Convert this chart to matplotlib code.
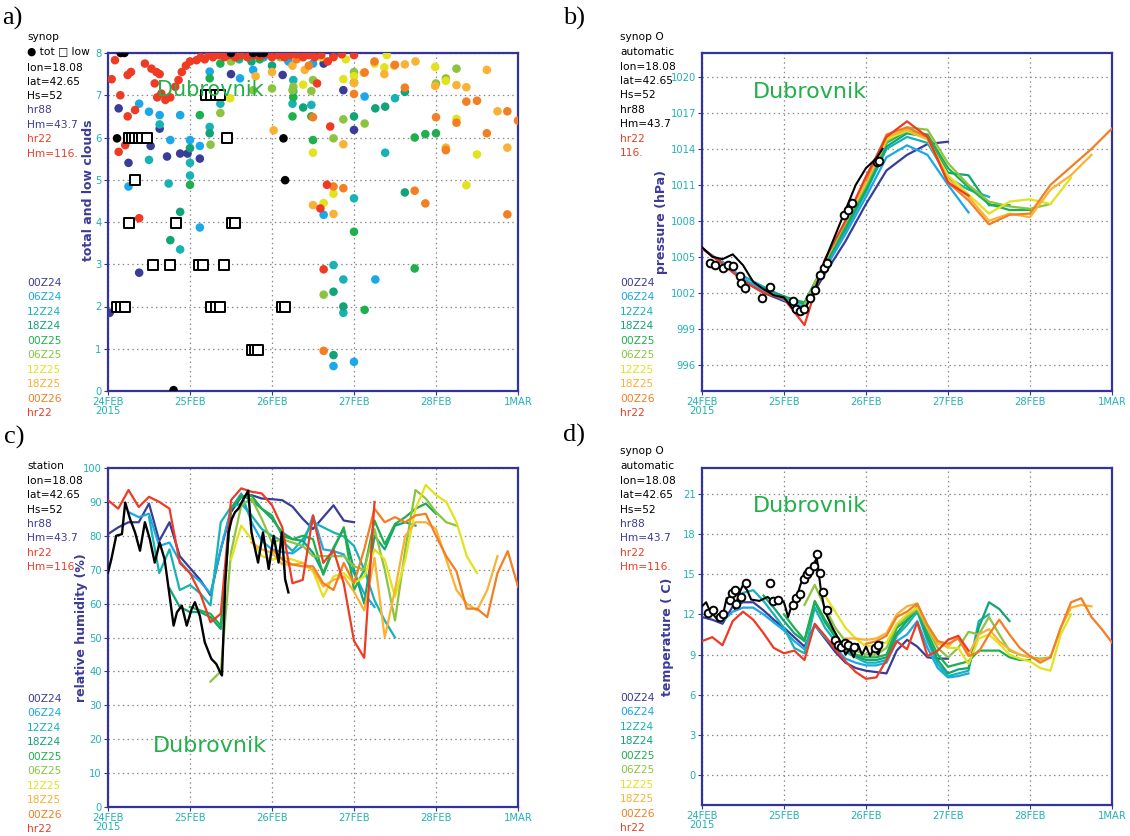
import numpy as np
import matplotlib
matplotlib.use('Agg')
import matplotlib.pyplot as plt

W, H = 1130, 836

runs = ['00Z24', '06Z24', '12Z24', '18Z24', '00Z25', '06Z25', '12Z25', '18Z25', '00Z26', 'hr22']
run_colors = ['#3b3b98', '#1aa8e8', '#17b3b3', '#10a478', '#1eaf4e', '#8cc43f',
              '#e2e21e', '#f9b233', '#f37f22', '#ef3b24']
run_init = [0.0, 0.25, 0.5, 0.75, 1.0, 1.25, 1.5, 1.75, 2.0, 0.0]
xtick_labels = ['24FEB\n2015', '25FEB', '26FEB', '27FEB', '28FEB', '1MAR']

# ---------------- a) cloud cover (time in days from 24FEB 00Z, octas) ----------------
cl_00Z24 = [(0.02, 1.85), (0.13, 6.69), (0.25, 5.4), (0.38, 2.8), (0.52, 5.8), (0.63, 6.21), (0.72, 5.55),
            (0.88, 5.62), (0.97, 5.62), (1.12, 5.5), (1.5, 7.5), (1.3, 7.95), (2.13, 7.48), (2.63, 7.75),
            (2.75, 7.95), (2.87, 7.12), (3.0, 6.18)]
cl_06Z24 = [(0.38, 6.8), (0.5, 6.61), (0.63, 6.53), (0.76, 5.94), (0.88, 6.53), (1.0, 5.94), (1.12, 5.8),
            (0.25, 4.84), (1.12, 3.87), (1.24, 7.56), (1.61, 7.4), (1.77, 7.6), (2.5, 7.75), (3.13, 6.97),
            (2.63, 4.17), (3.26, 2.64), (2.75, 0.59), (3.0, 0.69), (1.9, 7.9), (2.2, 7.8)]
cl_12Z24 = [(0.5, 5.47), (0.63, 6.31), (1.0, 5.4), (1.24, 6.25), (1.37, 6.8), (2.25, 6.8), (2.48, 6.77),
            (0.74, 4.91), (0.88, 3.35), (2.26, 7.36), (2.26, 7.1), (3.5, 6.93), (3.38, 5.64), (3.0, 4.56),
            (2.75, 2.98), (2.87, 1.85), (2.87, 2.64), (1.0, 5.1), (1.6, 7.85)]
cl_18Z24 = [(0.76, 3.57), (0.88, 4.24), (1.24, 6.1), (2.38, 6.71), (3.26, 6.69), (3.38, 6.73), (3.62, 7.08),
            (3.0, 6.5), (2.75, 0.85), (2.87, 2.0), (2.75, 2.35), (3.62, 4.7), (1.0, 5.75), (1.75, 7.8), (2.0, 7.7)]
cl_00Z25 = [(1.12, 6.53), (1.24, 7.4), (1.37, 7.75), (1.0, 4.88), (2.25, 6.5), (2.48, 6.5), (2.26, 6.95),
            (2.5, 5.94), (3.74, 6.0), (3.87, 6.08), (4.0, 6.1), (3.0, 3.77), (3.74, 2.9), (3.13, 1.92),
            (3.0, 7.3), (1.6, 7.9), (1.85, 7.85)]
cl_06Z25 = [(1.25, 5.83), (1.37, 6.58), (1.77, 7.12), (2.25, 7.12), (2.48, 7.1), (2.0, 7.16), (2.26, 7.2),
            (2.5, 7.36), (2.75, 5.98), (2.87, 6.43), (3.13, 6.33), (3.0, 7.55), (4.0, 7.28), (4.12, 7.4),
            (4.25, 7.63), (2.63, 2.28), (1.5, 7.8), (2.1, 7.9)]
cl_12Z25 = [(1.49, 6.93), (2.38, 7.25), (2.5, 5.64), (2.75, 4.67), (2.63, 4.45), (2.87, 7.38), (3.0, 7.45),
            (3.25, 7.75), (3.37, 7.66), (3.99, 7.67), (4.12, 7.34), (4.25, 6.44), (4.5, 5.6), (4.37, 4.87),
            (2.6, 7.9), (2.9, 7.85), (3.4, 7.95)]
cl_18Z25 = [(2.02, 6.17), (2.5, 4.4), (2.75, 4.19), (2.87, 5.84), (3.0, 7.29), (3.12, 7.53), (3.37, 7.5),
            (3.49, 7.7), (3.62, 7.73), (3.75, 7.8), (3.99, 7.22), (4.12, 5.76), (4.25, 7.24), (4.37, 7.19),
            (4.62, 7.6), (4.75, 6.62), (4.87, 5.76), (1.8, 7.45), (2.0, 7.55), (2.25, 7.7), (2.4, 7.6)]
cl_00Z26 = [(2.5, 6.48), (2.75, 4.84), (2.87, 4.8), (3.0, 7.03), (3.13, 7.54), (3.5, 7.72), (3.62, 7.18),
            (3.74, 4.74), (3.87, 4.44), (4.0, 6.48), (4.12, 5.7), (4.25, 6.35), (4.37, 6.85), (4.5, 6.87),
            (4.62, 6.1), (4.87, 6.62), (5.0, 6.4), (4.87, 4.18), (2.63, 0.95), (2.3, 7.85), (2.45, 7.7), (3.25, 7.8)]
cl_hr22 = [(0.045, 7.38), (0.085, 7.83), (0.24, 7.48), (0.28, 7.55), (0.33, 6.65), (0.24, 6.5), (0.45, 7.75),
           (0.53, 7.63), (0.59, 7.55), (0.63, 7.5), (0.57, 7.28), (0.65, 7.04), (0.7, 6.89), (0.76, 6.95),
           (0.82, 7.2), (0.86, 7.36), (0.9, 7.55), (0.95, 7.7), (1.0, 7.8), (1.08, 7.83), (0.13, 5.66),
           (0.21, 5.82), (0.39, 6.02), (0.38, 4.09), (2.55, 7.28), (2.71, 6.26), (2.67, 4.88), (2.59, 4.32),
           (2.63, 2.88), (1.13, 7.9), (1.18, 7.85), (1.23, 7.95), (1.28, 7.9), (1.35, 7.95), (1.42, 7.9),
           (1.48, 7.95), (1.55, 7.9), (1.62, 7.95), (1.7, 7.9), (1.78, 7.95), (1.85, 7.92), (1.92, 7.97),
           (2.0, 7.9), (2.08, 7.95), (2.15, 7.9), (2.22, 7.95), (2.3, 7.97), (2.38, 7.9), (2.45, 7.95),
           (2.52, 7.9), (2.6, 7.95), (2.68, 7.8), (2.75, 7.9), (2.85, 7.97), (3.0, 7.95), (0.15, 7.0), (0.6, 6.95)]
cloud_runs = [cl_00Z24, cl_06Z24, cl_12Z24, cl_18Z24, cl_00Z25, cl_06Z25, cl_12Z25, cl_18Z25, cl_00Z26, cl_hr22]
obs_tot = [(0.11, 5.98), (0.155, 8.0), (0.2, 8.0), (1.5, 8.0), (1.77, 8.0), (1.85, 8.0), (1.9, 8.0),
           (2.14, 5.98), (2.16, 4.99), (0.8, 0.02)]
obs_low = [(0.11, 1.98), (0.16, 1.98), (0.21, 1.98), (0.25, 3.98), (0.25, 6), (0.29, 6), (0.33, 6), (0.38, 6),
           (0.42, 6), (0.47, 6), (0.33, 5), (0.55, 2.98), (0.75, 2.98), (0.83, 3.98), (1.11, 2.98), (1.16, 2.98),
           (1.2, 7), (1.26, 7), (1.32, 7), (1.37, 7), (1.26, 1.98), (1.32, 1.98), (1.37, 1.98), (1.41, 2.98),
           (1.45, 6), (1.51, 3.98), (1.55, 3.98), (1.75, 0.98), (1.79, 0.98), (1.83, 0.98), (2.12, 1.98), (2.16, 1.98)]

# ---------------- b) pressure, 6-hourly from each run's start ----------------
pres_00Z24 = [1005.7, 1004.5, 1003.0, 1002.0, 1001.3, 1000.7, 1003.6, 1006.3, 1009.4, 1012.2, 1013.5, 1014.4, 1014.6]
pres_06Z24 = [1004.6, 1003.2, 1002.2, 1001.4, 1000.8, 1004.0, 1006.9, 1010.0, 1013.3, 1014.3, 1013.5, 1011.0, 1008.7]
pres_12Z24 = [1003.4, 1002.5, 1001.6, 1001.0, 1004.2, 1007.2, 1010.4, 1014.0, 1015.0, 1014.5, 1011.6, 1010.6, 1010.0]
pres_18Z24 = [1002.4, 1001.7, 1001.1, 1004.4, 1007.4, 1010.6, 1014.2, 1015.3, 1015.0, 1012.0, 1011.8, 1009.3, 1009.3]
pres_00Z25 = [1001.6, 1001.2, 1004.5, 1007.6, 1010.8, 1014.5, 1015.5, 1015.2, 1012.4, 1010.8, 1009.4, 1008.9, 1008.9]
pres_06Z25 = [1001.0, 1004.6, 1007.8, 1011.0, 1014.6, 1015.8, 1015.6, 1012.8, 1011.0, 1009.6, 1009.2, 1009.0, 1009.4]
pres_12Z25 = [1004.7, 1008.0, 1011.2, 1014.8, 1015.5, 1014.8, 1011.8, 1010.2, 1008.6, 1009.6, 1009.8, 1009.4, 1011.6]
pres_18Z25 = [1008.1, 1011.3, 1015.0, 1015.6, 1014.8, 1011.5, 1010.0, 1008.0, 1008.6, 1008.3, 1010.6, 1011.8, 1013.5]
pres_00Z26 = [1011.4, 1015.2, 1015.8, 1015.0, 1011.2, 1009.7, 1007.7, 1008.5, 1008.6, 1011.0, 1012.5, 1014.0, 1015.7]
pres_hr22 = [1005.7, 1004.4, 1003.0, 1002.0, 1001.5, 999.3, 1004.8, 1008.0, 1011.7, 1015.0, 1016.3, 1015.0, 1011.2, 1010.1]
pres_runs = [pres_00Z24, pres_06Z24, pres_12Z24, pres_18Z24, pres_00Z25, pres_06Z25, pres_12Z25, pres_18Z25,
             pres_00Z26, pres_hr22]
pres_obs_t = [0.0, 0.125, 0.25, 0.375, 0.5, 0.625, 0.75, 0.875, 1.0, 1.125, 1.25, 1.375, 1.5, 1.625, 1.75,
              1.875, 2.0, 2.125, 2.2]
pres_obs = [1005.8, 1005.0, 1004.8, 1005.2, 1004.3, 1002.9, 1002.3, 1001.8, 1001.6, 1000.5, 1000.6, 1002.2,
            1004.7, 1006.8, 1008.9, 1011.0, 1012.4, 1013.2, 1014.0]
pres_syn_t = [0.1, 0.16, 0.26, 0.32, 0.38, 0.46, 0.48, 0.52, 0.73, 0.83, 1.11, 1.15, 1.195, 1.24, 1.32, 1.38,
              1.44, 1.49, 1.53, 1.73, 1.78, 1.83, 2.13, 2.16]
pres_syn = [1004.5, 1004.3, 1004.1, 1004.3, 1004.2, 1003.4, 1002.8, 1002.4, 1001.6, 1002.5, 1001.3, 1000.6,
            1000.45, 1000.6, 1001.6, 1002.25, 1003.5, 1004.1, 1004.5, 1008.5, 1008.9, 1009.5, 1012.9, 1013.0]

# ---------------- c) relative humidity, 3-hourly ----------------
rh_00Z24 = [80.5, 82.5, 84, 84, 89.5, 78.5, 84, 74, 70.5, 67, 62.5, 76, 87, 91.5, 92, 91, 90.8, 90.5, 88.6, 85,
            82, 85.5, 89, 84.5, 84]
rh_06Z24 = [87, 85.5, 86.5, 77, 78, 72.5, 69, 66.5, 63, 76, 88, 92.5, 84, 78.5, 76, 75.2, 74.8, 77, 86, 76,
            75.5, 74.5, 69, 63, 59]
rh_12Z24 = [85.5, 69, 76, 64, 65.5, 63, 59.5, 84, 88.5, 89.5, 86, 82, 80, 78.5, 75.5, 79, 84, 82.5, 81, 79.8,
            77, 70, 61, 55, 50]
rh_18Z24 = [64.5, 59, 57.5, 57.5, 56, 52.5, 88, 92, 90.5, 88, 85, 81, 79, 78.5, 75, 69, 76.5, 82, 70, 60, 80,
            76, 83, 84, 83]
rh_00Z25 = [59, 58, 57, 53.5, 88, 91.5, 91.8, 88, 86, 80, 79, 80, 79, 68.5, 76, 82.5, 64, 70, 84.5, 77.5, 83.5,
            85.5, 88, 89.5, 86.5]
rh_06Z25 = [37, 40, 75, 89, 91, 85, 78, 79, 78, 77, 74, 74, 74, 74, 71, 70, 82, 70, 55, 76, 93.5, 91, 87, 84, 83]
rh_12Z25 = [73, 83, 79, 74, 73, 73.5, 73, 72, 69.5, 62, 68, 69, 66, 68, 76, 73, 62, 73, 88, 95, 92, 90, 84,
            74, 69]
rh_18Z25 = [78, 76, 75, 71.6, 71.5, 72, 70, 65, 67, 68, 63.5, 58, 73.5, 50, 64, 80, 84, 84, 82, 73, 64, 60, 58,
            64, 74]
rh_00Z26 = [76, 73, 71.5, 71, 71, 66, 64, 72, 66, 76, 88, 84, 85.5, 84, 86, 86.5, 80, 74, 69.5, 58.5, 58.5, 56,
            69, 75.5, 65]
rh_hr22 = [90.5, 88, 93.5, 88.5, 91.5, 90, 88, 72, 69, 63, 54.5, 57, 90.5, 94, 93, 92.5, 89, 82.5, 66, 67, 86,
           72, 75.8, 66, 49, 44, 90]
rh_runs = [rh_00Z24, rh_06Z24, rh_12Z24, rh_18Z24, rh_00Z25, rh_06Z25, rh_12Z25, rh_18Z25, rh_00Z26, rh_hr22]
rh_obs_t = [0.0, 0.04, 0.1, 0.17, 0.21, 0.27, 0.33, 0.39, 0.45, 0.51, 0.57, 0.63, 0.69, 0.74, 0.8, 0.84, 0.9,
            0.96, 1.02, 1.06, 1.12, 1.18, 1.26, 1.32, 1.37, 1.39, 1.43, 1.47, 1.51, 1.55, 1.59, 1.65, 1.71, 1.75,
            1.83, 1.89, 1.96, 2.02, 2.08, 2.12, 2.16, 2.2]
rh_obs = [69.2, 73, 80, 80.5, 89.8, 84.9, 81, 75.6, 84, 79, 72.1, 78, 73.1, 64.3, 53.5, 57.4, 59.4, 53.5, 58.4,
          60.4, 56.4, 48.6, 43.7, 42.2, 39.7, 38.8, 66, 81, 85, 87, 88, 90.8, 93.3, 81, 72.1, 81, 70.2, 80, 72.1,
          81, 67.2, 63.3]

# ---------------- d) temperature, 3-hourly ----------------
t_00Z24 = [11.8, 11.6, 11.3, 12.6, 12.9, 12.9, 12.3, 11.6, 11.0, 10.3, 9.6, 11.2, 10.2, 9.2, 8.4, 8.0, 7.8, 7.7,
           7.6, 9.3, 10.1, 9.6, 8.8, 8.7, 8.7]
t_06Z24 = [11.5, 12.2, 12.5, 12.5, 12.0, 11.4, 10.8, 10.0, 9.4, 11.2, 10.3, 9.5, 8.7, 8.4, 8.2, 8.2, 8.4, 10.0,
           10.5, 11.5, 9.5, 8.0, 7.3, 7.4, 7.6]
t_12Z24 = [13.6, 13.8, 13.0, 12.0, 11.0, 9.5, 9.1, 12.5, 11.0, 10.0, 9.2, 8.8, 8.4, 8.4, 8.6, 10.4, 11.2, 12.2,
           10.0, 8.3, 7.4, 7.6, 7.8, 11.5, 12.0]
t_18Z24 = [13.4, 12.5, 11.5, 10.6, 10.0, 12.9, 11.4, 10.3, 9.4, 8.9, 8.6, 8.6, 8.8, 10.6, 11.5, 12.4, 10.3, 8.6,
           7.6, 7.9, 8.0, 11.0, 12.9, 12.4, 11.5]
t_00Z25 = [12.0, 11.0, 10.1, 13.0, 11.6, 10.5, 9.5, 9.0, 8.8, 8.8, 9.0, 11.0, 11.6, 12.6, 10.6, 9.0, 8.1, 8.3,
           8.5, 9.3, 9.3, 9.3, 8.8, 8.6, 8.6]
t_06Z25 = [12.7, 14.2, 12.5, 11.0, 10.0, 9.3, 9.0, 9.0, 9.5, 11.2, 11.8, 12.4, 10.9, 9.5, 8.8, 9.5, 10.7, 10.5,
           11.8, 10.5, 9.3, 9.0, 8.8, 8.7, 8.8]
t_12Z25 = [13.4, 12.2, 11.0, 10.2, 9.6, 9.7, 9.9, 11.3, 12.0, 12.5, 11.2, 10.0, 9.5, 9.5, 8.3, 10.2, 10.5, 9.8,
           9.0, 8.7, 8.5, 8.0, 7.8, 10.5, 12.0]
t_18Z25 = [10.2, 10.2, 10.1, 10.2, 10.6, 12.0, 12.6, 12.8, 11.0, 9.8, 9.6, 10.4, 9.0, 10.5, 10.9, 10.0, 9.4,
           9.0, 8.8, 8.6, 8.8, 11.0, 12.5, 12.7, 12.6]
t_00Z26 = [9.8, 10.0, 10.4, 11.8, 12.2, 12.8, 11.2, 10.0, 9.8, 10.2, 8.9, 9.2, 10.5, 11.6, 10.5, 9.5, 8.9, 8.4,
           8.8, 11.0, 12.9, 13.2, 11.8, 10.9, 9.9]
t_hr22 = [10.0, 10.3, 9.7, 11.5, 12.2, 11.6, 10.6, 9.5, 9.1, 9.3, 8.6, 11.3, 10.4, 9.4, 8.5, 7.7, 7.2, 7.3, 8.6,
          10.0, 9.4, 11.4, 8.9, 9.3, 10.1, 10.4, 9.3]
t_runs = [t_00Z24, t_06Z24, t_12Z24, t_18Z24, t_00Z25, t_06Z25, t_12Z25, t_18Z25, t_00Z26, t_hr22]
t_obs_t = [0.0, 0.05, 0.1, 0.15, 0.2, 0.25, 0.3, 0.35, 0.4, 0.45, 0.5, 0.55, 0.6, 0.7, 0.8, 0.9, 0.95, 1.0,
           1.05, 1.1, 1.15, 1.2, 1.25, 1.3, 1.35, 1.4, 1.45, 1.5, 1.6, 1.7, 1.75, 1.8, 1.85, 1.9, 1.95, 2.0, 2.05,
           2.1, 2.15, 2.2]
t_obs = [12.6, 12.9, 12.2, 11.9, 11.5, 11.8, 13.2, 13.0, 12.4, 13.5, 14.2, 13.8, 13.1, 13.0, 13.3, 12.8, 13.2,
         12.9, 11.8, 12.8, 13.2, 14.2, 15.0, 15.2, 15.6, 16.2, 13.8, 12.2, 10.9, 9.8, 9.0, 9.4, 8.8, 9.8, 9.0,
         9.6, 8.9, 9.5, 9.0, 9.9]
t_syn_t = [0.077, 0.138, 0.22, 0.26, 0.34, 0.36, 0.40, 0.42, 0.48, 0.54, 0.83, 0.87, 0.93, 1.11, 1.15, 1.19,
           1.24, 1.28, 1.31, 1.36, 1.40, 1.44, 1.48, 1.52, 1.62, 1.66, 1.70, 1.74, 1.78, 1.85, 2.11, 2.15]
t_syn = [12.1, 12.3, 11.8, 12.0, 13.1, 13.6, 13.8, 12.8, 13.3, 14.3, 14.3, 13.0, 13.1, 12.7, 13.2, 13.5, 14.6,
         15.0, 15.2, 15.6, 16.5, 15.1, 13.7, 12.3, 10.1, 9.7, 9.6, 9.9, 9.7, 9.6, 9.5, 9.7]

# ---------------- styling helpers ----------------
FRAME = '#33339a'
TICKC = '#22b2b2'
GRIDC = '#8a8a8a'
GREEN = '#22b04a'
SIDE_FS = 7.7


def fx(px):
    return px / W


def fy(py):
    return 1 - py / H


fig = plt.figure(figsize=(W / 100, H / 100), dpi=100)


def make_axes(left, top, right, bottom, ylim, yticks, ylab_fmt):
    ax = fig.add_axes([fx(left), fy(bottom), fx(right - left), (bottom - top) / H])
    ax.set_xlim(0, 5)
    ax.set_ylim(*ylim)
    ax.set_xticks(range(6))
    ax.set_xticklabels(xtick_labels, color=TICKC, fontsize=7.2, linespacing=0.9)
    ax.set_yticks(yticks)
    ax.set_yticklabels([ylab_fmt(v) for v in yticks], color=TICKC, fontsize=7.2)
    ax.tick_params(axis='both', length=3, width=0.8, color=FRAME, pad=1.5)
    ax.grid(True, color=GRIDC, linestyle=(0, (1.2, 2.6)), linewidth=0.9)
    ax.set_axisbelow(True)
    for s in ax.spines.values():
        s.set_color(FRAME)
        s.set_linewidth(1.6)
    return ax


def side_text(x, ys, lines, colors, size=SIDE_FS):
    for y, s, c in zip(ys, lines, colors):
        fig.text(fx(x), fy(y), s, color=c, fontsize=size, va='center', ha='left')


def legend_block(x, y0, dy):
    for i, (r, c) in enumerate(zip(runs, run_colors)):
        fig.text(fx(x), fy(y0 + i * dy), r, color=c, fontsize=SIDE_FS, va='center', ha='left')


def draw_runs(ax, data, step):
    for i in range(10):
        vals = np.asarray(data[i], dtype=float)
        t = run_init[i] + step * np.arange(len(vals))
        ax.plot(t, vals, color=run_colors[i], lw=1.6, solid_joinstyle='round', zorder=3)


BLK = 'black'
PURP = run_colors[0]
RED = run_colors[9]

# ---------------- panel a ----------------
axa = make_axes(108, 53, 518, 391, (0, 8), range(0, 9), lambda v: f'{v:d}')
for pts, c in zip(cloud_runs, run_colors):
    arr = np.array(pts)
    axa.scatter(arr[:, 0], arr[:, 1], s=38, color=c, edgecolors='none', zorder=3)
arr = np.array(obs_tot)
axa.scatter(arr[:, 0], arr[:, 1], s=38, color='black', edgecolors='none', zorder=4)
arr = np.array(obs_low)
axa.scatter(arr[:, 0], arr[:, 1], s=52, marker='s', facecolors='white', edgecolors='black',
            linewidths=1.4, zorder=5)
fig.text(fx(210), fy(90), 'Dubrovnik', color=GREEN, fontsize=15, ha='center', va='center')
fig.text(fx(89), fy(190), 'total and low clouds', color=PURP, fontsize=9, fontweight='bold',
         rotation=90, ha='center', va='center')
fig.text(fx(2), fy(18), 'a)', fontsize=19, family='Liberation Serif', va='center', ha='left')
side_text(27, [37, 51, 68, 82, 96, 110, 125, 139, 154],
          ['synop', '\u25cf tot \u25a1 low', 'lon=18.08', 'lat=42.65', 'Hs=52', 'hr88', 'Hm=43.7', 'hr22', 'Hm=116.'],
          [BLK, BLK, BLK, BLK, BLK, PURP, PURP, RED, RED])
legend_block(27, 283, 14.45)

# ---------------- panel b ----------------
axb = make_axes(702, 53, 1112, 391, (993.8, 1022), range(996, 1021, 3), lambda v: f'{v:d}')
draw_runs(axb, pres_runs, 0.25)
axb.plot(pres_obs_t, pres_obs, color='black', lw=1.5, zorder=5)
axb.plot(pres_syn_t, pres_syn, ls='none', marker='o', ms=5.5, mfc='white', mec='black', mew=1.4, zorder=6)
fig.text(fx(810), fy(92), 'Dubrovnik', color=GREEN, fontsize=16, ha='center', va='center')
fig.text(fx(662), fy(222), 'pressure (hPa)', color=PURP, fontsize=9, fontweight='bold',
         rotation=90, ha='center', va='center')
fig.text(fx(563), fy(18), 'b)', fontsize=19, family='Liberation Serif', va='center', ha='left')
side_text(620, [37, 52, 67, 81, 95, 110, 124, 139, 153],
          ['synop O', 'automatic', 'lon=18.08', 'lat=42.65', 'Hs=52', 'hr88', 'Hm=43.7', 'hr22', '116.'],
          [BLK, BLK, BLK, BLK, BLK, BLK, BLK, RED, RED])
legend_block(620, 283, 14.45)

# ---------------- panel c ----------------
axc = make_axes(108, 468, 518, 807, (0, 100), range(0, 101, 10), lambda v: f'{v:d}')
draw_runs(axc, rh_runs, 0.125)
axc.plot(rh_obs_t, rh_obs, color='black', lw=1.7, zorder=5)
fig.text(fx(210), fy(746), 'Dubrovnik', color=GREEN, fontsize=16, ha='center', va='center')
fig.text(fx(81), fy(628), 'relative humidity (%)', color=PURP, fontsize=9, fontweight='bold',
         rotation=90, ha='center', va='center')
fig.text(fx(4), fy(437), 'c)', fontsize=19, family='Liberation Serif', va='center', ha='left')
side_text(27, [466, 481, 495, 510, 524, 538, 553, 567],
          ['station', 'lon=18.08', 'lat=42.65', 'Hs=52', 'hr88', 'Hm=43.7', 'hr22', 'Hm=116.'],
          [BLK, BLK, BLK, BLK, PURP, PURP, RED, RED])
legend_block(27, 699, 14.45)

# ---------------- panel d ----------------
axd = make_axes(702, 468, 1112, 805, (-2.2, 22.9), range(0, 22, 3), lambda v: f'{v:d}')
draw_runs(axd, t_runs, 0.125)
axd.plot(t_obs_t, t_obs, color='black', lw=1.5, zorder=5)
axd.plot(t_syn_t, t_syn, ls='none', marker='o', ms=5.5, mfc='white', mec='black', mew=1.4, zorder=6)
fig.text(fx(810), fy(506), 'Dubrovnik', color=GREEN, fontsize=16, ha='center', va='center')
fig.text(fx(667), fy(637), 'temperature ( C)', color=PURP, fontsize=9, fontweight='bold',
         rotation=90, ha='center', va='center')
fig.text(fx(563), fy(435), 'd)', fontsize=19, family='Liberation Serif', va='center', ha='left')
side_text(620, [451, 466, 481, 495, 510, 524, 538, 553, 567],
          ['synop O', 'automatic', 'lon=18.08', 'lat=42.65', 'Hs=52', 'hr88', 'Hm=43.7', 'hr22', 'Hm=116.'],
          [BLK, BLK, BLK, BLK, BLK, PURP, PURP, RED, RED])
legend_block(620, 698, 14.45)

fig.savefig('out.png', dpi=100)
